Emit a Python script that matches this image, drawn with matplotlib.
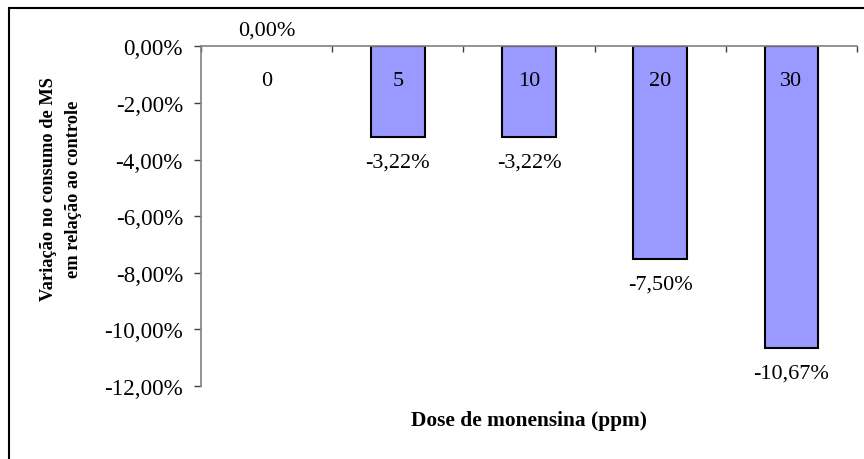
import matplotlib
matplotlib.use('Agg')
import matplotlib.pyplot as plt
import matplotlib.patches as patches
from matplotlib.ticker import FuncFormatter, FixedLocator
import numpy as np

plt.rcParams['font.family'] = ['Liberation Serif', 'DejaVu Serif']

# data (% change vs control)
doses = ['0', '5', '10', '20', '30']
variation = [0.00, -3.22, -3.22, -7.50, -10.67]
y_ticks = [0, -2, -4, -6, -8, -10, -12]

bar_color = '#9999FF'
axis_gray = '#808080'


def pct(v):
    return f'{v:.2f}%'.replace('.', ',')


fig = plt.figure(figsize=(8.64, 4.6), dpi=100)
ax = fig.add_axes([201 / 864, 1 - 387 / 460, 656 / 864, 339.7 / 460])

x = np.arange(len(doses))
# zero-height bar has no visible outline in the original
edge_w = [0 if v == 0 else 1.5 for v in variation]
ax.bar(x, variation, width=0.41, color=bar_color, edgecolor='black', linewidth=edge_w, zorder=2)

ax.set_xlim(-0.5, len(doses) - 0.5)
ax.set_ylim(-12, 0)

# value axis
ax.yaxis.set_major_locator(FixedLocator(y_ticks))
ax.yaxis.set_major_formatter(FuncFormatter(lambda v, p: pct(v)))
ax.tick_params(axis='y', direction='out', length=5, width=1, color='#404040',
               labelsize=16.6, pad=8)

# category axis sits on the zero line (top)
ax.xaxis.set_ticks_position('top')
ax.set_xticks(np.arange(-0.5, len(doses), 1.0))
ax.tick_params(axis='x', direction='in', length=4.5, width=1, color='#404040',
               labeltop=False, labelbottom=False)

for s in ['bottom', 'right']:
    ax.spines[s].set_visible(False)
for s in ['top', 'left']:
    ax.spines[s].set_color(axis_gray)
    ax.spines[s].set_linewidth(1.2)
    ax.spines[s].set_zorder(3)

# category names inside the plot, under the zero line
for xi, name in zip(x, doses):
    ax.text(xi, -1.21, name, ha='center', va='center', fontsize=16, zorder=3)

# value labels
for xi, v in zip(x, variation):
    off = 12 if v >= 0 else -18
    ax.annotate(pct(v), (xi, v), xytext=(0, off), textcoords='offset points',
                ha='center', va='center', fontsize=16, annotation_clip=False)

fig.text(61 / 864, 1 - 189.5 / 460, 'Variação no consumo de MS\nem relação ao controle',
         rotation=90, ha='center', va='center', fontsize=13.2, fontweight='bold',
         linespacing=1.6, multialignment='center')
fig.text(529 / 864, 1 - 421 / 460, 'Dose de monensina (ppm)',
         ha='center', va='center', fontsize=15.4, fontweight='bold')

# chart area border (right/bottom edges fall outside the image)
fig.patches.append(patches.Rectangle((9 / 864, -0.2), 2, 1.2 - 9 / 460,
                                     transform=fig.transFigure, fill=False,
                                     edgecolor='black', linewidth=1.5))

fig.savefig('out.png', dpi=100)
